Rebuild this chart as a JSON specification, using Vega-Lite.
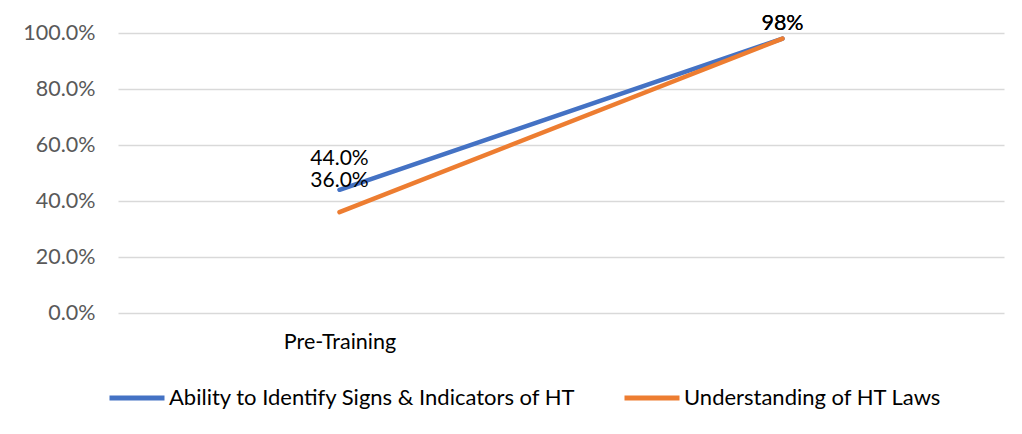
{
  "$schema": "https://vega.github.io/schema/vega-lite/v6.json",
  "width": 886,
  "height": 280,
  "autosize": {"type": "none"},
  "padding": {"left": 118, "top": 33, "right": 18, "bottom": 121},
  "background": "white",
  "config": {
    "view": {"stroke": null},
    "font": "Lato"
  },
  "data": {
    "values": [
      {"stage": "Pre-Training", "series": "Ability to Identify Signs & Indicators of HT", "value": 0.44, "label": "44.0%"},
      {"stage": "Post-Training", "series": "Ability to Identify Signs & Indicators of HT", "value": 0.98, "label": "98%"},
      {"stage": "Pre-Training", "series": "Understanding of HT Laws", "value": 0.36, "label": "36.0%"},
      {"stage": "Post-Training", "series": "Understanding of HT Laws", "value": 0.98, "label": "98%"}
    ]
  },
  "encoding": {
    "x": {
      "field": "stage", "type": "nominal", "sort": ["Pre-Training", "Post-Training"],
      "scale": {"type": "point", "padding": 0.5},
      "axis": {
        "title": null, "domain": false, "ticks": false, "grid": false, "labelAngle": 0,
        "labelFontSize": 21.5, "labelColor": "#000000", "labelPadding": 18,
        "labelExpr": "datum.label == 'Pre-Training' ? datum.label : ''"
      }
    },
    "y": {
      "field": "value", "type": "quantitative",
      "scale": {"domain": [0, 1]},
      "axis": {
        "title": null, "domain": false, "ticks": false, "format": ".1%",
        "values": [0, 0.2, 0.4, 0.6, 0.8, 1.0],
        "labelFontSize": 21.5, "labelColor": "#595959", "labelPadding": 23,
        "gridColor": "#D9D9D9", "gridWidth": 1.3
      }
    }
  },
  "layer": [
    {
      "mark": {"type": "line", "strokeWidth": 4.5, "strokeCap": "round"},
      "encoding": {
        "color": {
          "field": "series", "type": "nominal",
          "sort": ["Ability to Identify Signs & Indicators of HT", "Understanding of HT Laws"],
          "scale": {"range": ["#4472C4", "#ED7D31"]},
          "legend": {
            "title": null, "orient": "none", "direction": "horizontal",
            "legendX": -11, "legendY": 335,
            "symbolType": "stroke", "symbolSize": 3025, "symbolStrokeWidth": 5,
            "labelFontSize": 22, "labelColor": "#000000", "labelOffset": 2,
            "columnPadding": 37, "labelLimit": 600
          }
        }
      }
    },
    {
      "transform": [{"filter": "datum.stage == 'Pre-Training'"}],
      "mark": {"type": "text", "baseline": "alphabetic", "dy": -25, "fontSize": 21, "color": "#000000"},
      "encoding": {"text": {"field": "label"}}
    },
    {
      "transform": [{"filter": "datum.stage == 'Post-Training'"}],
      "mark": {"type": "text", "baseline": "alphabetic", "dy": -9, "fontSize": 21.5, "color": "#000000"},
      "encoding": {"text": {"field": "label"}}
    }
  ]
}
